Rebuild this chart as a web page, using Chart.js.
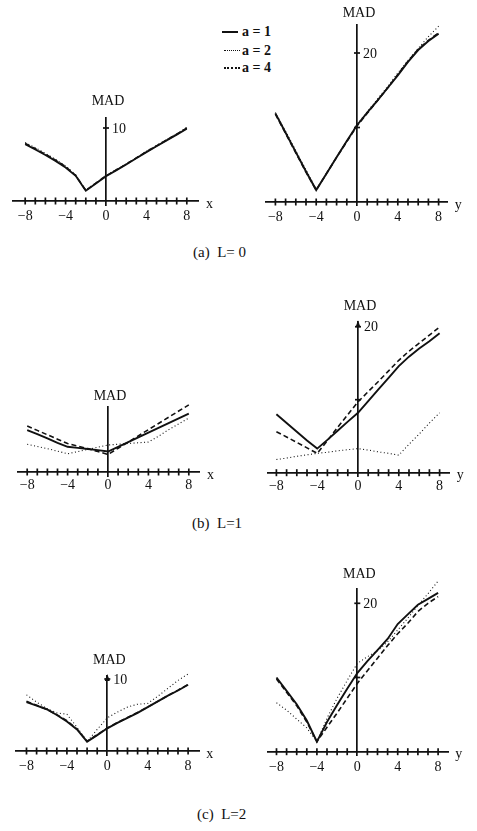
<!DOCTYPE html>
<html><head><meta charset="utf-8">
<script src="https://cdn.jsdelivr.net/npm/chart.js@4.4.0/dist/chart.umd.min.js"></script>
<style>
html,body{margin:0;padding:0;background:#fff;}
body{width:477px;height:831px;position:relative;overflow:hidden;font-family:"Liberation Serif","Times New Roman",serif;color:#111;}
canvas{position:absolute;}
.cap{position:absolute;font-size:15px;white-space:pre;line-height:18px;}
.leg{position:absolute;font-size:14px;font-weight:bold;white-space:pre;line-height:16px;}
.sw{position:absolute;height:0;width:16px;}
</style></head><body>
<div class="sw" style="left:222px;top:31px;border-top:2px solid #111;"></div>
<div class="leg" style="left:242px;top:24px;">a = 1</div>
<div class="sw" style="left:224px;top:50px;border-top:1px dotted #111;"></div>
<div class="leg" style="left:242px;top:43px;">a = 2</div>
<div class="sw" style="left:224px;top:67px;border-top:2px dotted #111;"></div>
<div class="leg" style="left:242px;top:60px;">a = 4</div>
<div class="cap" style="left:193px;top:243px;">(a)  L= 0</div>
<div class="cap" style="left:192px;top:514px;">(b)  L=1</div>
<div class="cap" style="left:197px;top:805px;">(c)  L=2</div>
<script>
// ---------- data ----------
const xValues = [-8,-7,-6,-5,-4,-3,-2,-1,0,1,2,3,4,5,6,7,8];
const xTickLabels = [-8,-4,0,4,8];
const seriesNames = ['a=1','a=2','a=4'];

// (a) L=0, MAD vs x
const madX_L0_a1 = [7.8,7.05,6.3,5.5,4.6,3.45,1.4,2.4,3.4,4.2,5.0,5.85,6.7,7.5,8.3,9.1,9.9];
const madX_L0_a2 = [8.0,7.3,6.5,5.7,4.8,3.6,1.5,2.5,3.5,4.3,5.1,5.9,6.8,7.6,8.4,9.2,10.1];
const madX_L0_a4 = [7.9,7.15,6.4,5.6,4.7,3.5,1.45,2.45,3.45,4.25,5.05,5.9,6.75,7.55,8.35,9.15,10.0];
// (a) L=0, MAD vs y
const madY_L0_a1 = [11.9,9.3,6.7,4.1,1.6,3.8,6.0,8.2,10.3,12.0,13.6,15.3,17.0,18.8,20.4,21.6,22.6];
const madY_L0_a2 = [12.0,9.5,6.9,4.3,1.7,3.8,6.0,8.2,10.4,12.1,13.8,15.5,17.3,19.0,20.6,22.2,23.6];
const madY_L0_a4 = [11.8,9.2,6.6,4.0,1.6,3.8,6.0,8.1,10.2,11.9,13.6,15.3,17.1,18.9,20.5,21.7,22.7];
// (b) L=1, MAD vs x
const madX_L1_a1 = [5.75,5.2,4.6,4.0,3.45,3.3,3.15,3.0,2.8,3.45,4.1,4.75,5.4,6.05,6.7,7.35,8.0];
const madX_L1_a2 = [3.8,3.5,3.2,2.85,2.5,2.8,3.1,3.4,3.7,3.8,3.9,4.0,4.1,4.9,5.8,6.6,7.4];
const madX_L1_a4 = [6.3,5.7,5.1,4.5,3.9,3.55,3.2,2.8,2.4,3.25,4.1,4.95,5.8,6.65,7.5,8.35,9.2];
// (b) L=1, MAD vs y
const madY_L1_a1 = [8.0,6.8,5.6,4.4,3.3,4.5,5.75,7.0,8.2,9.8,11.4,13.0,14.6,15.9,17.0,18.0,19.1];
const madY_L1_a2 = [1.8,2.0,2.25,2.45,2.65,2.8,3.0,3.15,3.3,3.1,2.85,2.65,2.4,3.9,5.3,6.8,8.2];
const madY_L1_a4 = [5.6,4.9,4.15,3.4,2.65,4.4,6.2,7.95,9.7,11.1,12.5,13.95,15.4,16.65,17.75,18.85,19.95];
// (c) L=2, MAD vs x
const madX_L2_a1 = [6.8,6.3,5.8,5.0,4.1,3.0,1.3,2.2,3.15,3.9,4.6,5.3,6.1,6.9,7.7,8.4,9.2];
const madX_L2_a2 = [7.8,6.8,5.9,5.3,5.1,3.3,1.3,3.0,4.6,5.4,6.1,6.5,6.6,7.6,8.7,9.8,10.7];
const madX_L2_a4 = [6.9,6.35,5.8,5.05,4.2,3.05,1.35,2.25,3.2,3.95,4.65,5.35,6.1,6.9,7.7,8.45,9.25];
// (c) L=2, MAD vs y
const madY_L2_a1 = [10.0,8.2,6.4,4.2,1.35,4.0,6.3,8.5,10.6,12.2,13.7,15.2,17.2,18.5,19.8,20.6,21.4];
const madY_L2_a2 = [6.6,5.6,4.4,3.2,1.35,4.5,7.2,9.6,11.9,12.8,13.6,14.8,16.4,18.0,19.7,21.3,23.0];
const madY_L2_a4 = [9.8,8.0,6.2,4.0,1.35,3.3,5.2,7.2,9.2,10.9,12.6,14.3,15.9,17.3,18.9,20.0,20.9];

const yTickValues = [10,20];
const yTickLabels_L0_x = [10];
const yTickLabels_L0_y = [20];
const yTickLabels_L1_x = [];
const yTickLabels_L1_y = [20];
const yTickLabels_L2_x = [10];
const yTickLabels_L2_y = [20];

// ---------- layout (pixels) ----------
const panels = [
  {cx:106, cy:201, ux:10.1, uy:7.3, xmin:-9.2, xmax:9.2, ymin:-0.6, ymax:11.4, madGap:16, arrow:false, axisName:'x', labPad:7, yTicks:yTickLabels_L0_x, series:[madX_L0_a1,madX_L0_a2,madX_L0_a4]},
  {cx:357, cy:202, ux:10.2, uy:7.45, xmin:-8.9, xmax:8.9, ymin:-0.5, ymax:23.8, madGap:11, arrow:false, axisName:'y', labPad:7, yTicks:yTickLabels_L0_y, series:[madY_L0_a1,madY_L0_a2,madY_L0_a4]},
  {cx:108, cy:472, ux:10.1, uy:7.3, xmin:-8.9, xmax:9.1, ymin:-0.6, ymax:8.9, madGap:11, arrow:false, axisName:'x', labPad:5, yTicks:yTickLabels_L1_x, series:[madX_L1_a1,madX_L1_a2,madX_L1_a4]},
  {cx:358, cy:472.7, ux:10.2, uy:7.3, xmin:-8.8, xmax:9.0, ymin:-0.5, ymax:20.6, madGap:16, arrow:true, axisName:'y', labPad:5, yTicks:yTickLabels_L1_y, series:[madY_L1_a1,madY_L1_a2,madY_L1_a4]},
  {cx:107.3, cy:751, ux:10.1, uy:7.2, xmin:-9.05, xmax:9.1, ymin:-0.6, ymax:10.4, madGap:16, arrow:true, axisName:'x', labPad:7, yTicks:yTickLabels_L2_x, series:[madX_L2_a1,madX_L2_a2,madX_L2_a4]},
  {cx:357.3, cy:751.7, ux:10.1, uy:7.42, xmin:-8.85, xmax:9.0, ymin:-0.5, ymax:22.0, madGap:14, arrow:false, axisName:'y', labPad:7, yTicks:yTickLabels_L2_y, series:[madY_L2_a1,madY_L2_a2,madY_L2_a4]}
];

const lineStyles = [
  {borderWidth:1.9, borderDash:[]},
  {borderWidth:1.1, borderDash:[1,2.5]},
  {borderWidth:1.6, borderDash:[5,3]}
];
const INK = '#111';
const FONT = '"Liberation Serif","Times New Roman",serif';

const axisDeco = {
  id: 'axisDeco',
  afterDraw(chart, args, opts) {
    const {ctx} = chart;
    const x = chart.scales.x, y = chart.scales.y;
    const y0 = y.getPixelForValue(0), x0 = x.getPixelForValue(0);
    ctx.save();
    ctx.strokeStyle = INK; ctx.fillStyle = INK; ctx.lineWidth = 1.7;
    x.ticks.forEach(t => {
      if (t.value !== 0) {
        const px = x.getPixelForValue(t.value);
        ctx.beginPath(); ctx.moveTo(px, y0 - 3.5); ctx.lineTo(px, y0 + 3.5); ctx.stroke();
      }
    });
    y.ticks.forEach(t => {
      const py = y.getPixelForValue(t.value);
      ctx.beginPath(); ctx.moveTo(x0 - 3, py); ctx.lineTo(x0 + 3, py); ctx.stroke();
    });
    const top = y.getPixelForValue(y.max);
    if (opts.arrow) {
      ctx.beginPath(); ctx.moveTo(x0, top - 2); ctx.lineTo(x0 - 2.5, top + 5); ctx.lineTo(x0 + 2.5, top + 5); ctx.closePath(); ctx.fill();
    }
    ctx.font = '14px ' + FONT; ctx.textBaseline = 'middle';
    ctx.textAlign = 'left';
    opts.yTicks.forEach(v => ctx.fillText(String(v), x0 + 6, y.getPixelForValue(v) + 1));
    ctx.textAlign = 'center';
    ctx.fillText('MAD', x0 + 2, top - opts.madGap);
    ctx.textAlign = 'left';
    ctx.fillText(opts.axisName, x.getPixelForValue(x.max) + 7, y0 + 3);
    ctx.restore();
  }
};

function fmtTick(v) {
  const r = Math.round(v);
  if (Math.abs(v - r) > 1e-6 || !xTickLabels.includes(r)) return '';
  return r < 0 ? '\u2212' + (-r) : String(r);
}

panels.forEach((p, i) => {
  const L = p.cx + p.xmin * p.ux, R = p.cx + p.xmax * p.ux;
  const T = p.cy - p.ymax * p.uy, B = p.cy - p.ymin * p.uy;
  const cl = Math.round(L - 20), ct = Math.round(T - 30);
  const W = Math.round(R + 30) - cl, H = Math.round(B + 30) - ct;
  const cv = document.createElement('canvas');
  cv.width = W; cv.height = H;
  cv.style.left = cl + 'px'; cv.style.top = ct + 'px';
  document.body.appendChild(cv);
  const pad = {left: L - cl, top: T - ct, right: (cl + W) - R, bottom: (ct + H) - B};
  new Chart(cv, {
    type: 'line',
    data: {
      datasets: p.series.map((s, k) => ({
        label: seriesNames[k],
        data: xValues.map((xv, j) => ({x: xv, y: s[j]})),
        borderColor: INK, backgroundColor: INK,
        borderWidth: lineStyles[k].borderWidth, borderDash: lineStyles[k].borderDash,
        pointRadius: 0, tension: 0, clip: false, fill: false
      }))
    },
    options: {
      responsive: false, animation: false, devicePixelRatio: 1,
      layout: {padding: pad},
      plugins: {legend: {display: false}, tooltip: {enabled: false}, axisDeco: {arrow: p.arrow, madGap: p.madGap, axisName: p.axisName, yTicks: p.yTicks}},
      scales: {
        x: {
          type: 'linear', position: {y: 0}, min: p.xmin, max: p.xmax,
          afterFit: s => { s.height = 0; },
          afterBuildTicks: s => { s.ticks = xValues.map(v => ({value: v})); },
          grid: {display: false, drawTicks: false},
          border: {display: true, color: INK, width: 1.7},
          ticks: {autoSkip: false, maxRotation: 0, padding: p.labPad, color: INK, font: {family: FONT, size: 14}, callback: v => fmtTick(v)}
        },
        y: {
          type: 'linear', position: {x: 0}, min: p.ymin, max: p.ymax,
          afterFit: s => { s.width = 0; },
          afterBuildTicks: s => { s.ticks = yTickValues.filter(v => v <= p.ymax).map(v => ({value: v})); },
          grid: {display: false, drawTicks: false},
          border: {display: true, color: INK, width: 1.7},
          ticks: {display: false}
        }
      }
    },
    plugins: [axisDeco]
  });
});
</script>
</body></html>
